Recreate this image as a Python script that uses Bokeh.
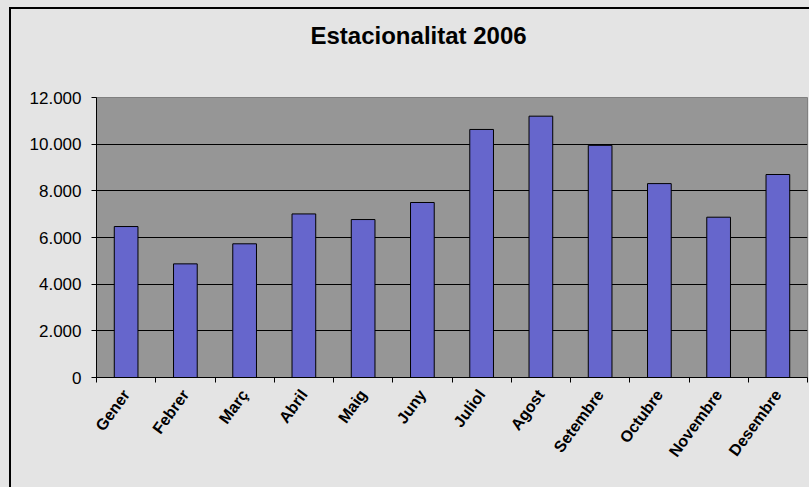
import math
from bokeh.plotting import figure
from bokeh.models import FixedTicker, LinearAxis, Range1d, ColumnDataSource, Title
from bokeh.embed import file_html
from bokeh.resources import INLINE

# ---- data ----
months = ["Gener", "Febrer", "Març", "Abril", "Maig", "Juny", "Juliol",
          "Agost", "Setembre", "Octubre", "Novembre", "Desembre"]
values = [6470, 4870, 5730, 7010, 6770, 7500, 10630, 11200, 9950, 8310, 6870, 8700]
y_ticks = [0, 2000, 4000, 6000, 8000, 10000, 12000]
y_tick_labels = ["0", "2.000", "4.000", "6.000", "8.000", "10.000", "12.000"]
title_text = "Estacionalitat 2006"

centers = [i + 0.5 for i in range(len(months))]
bounds = list(range(len(months) + 1))

src = ColumnDataSource(dict(x=centers, top=values, month=months))

FONT = "Liberation Sans"
BG = "#E4E4E4"

p = figure(width=809, height=487, output_backend="svg", toolbar_location=None,
           x_range=Range1d(0, len(months)), y_range=Range1d(0, 12000),
           x_axis_location=None, y_axis_location=None,
           min_border_left=96, min_border_right=2, min_border_top=97,
           min_border_bottom=110)
p.title_location = None

p.background_fill_color = "#969696"
p.border_fill_color = None
p.outline_line_color = "#808080"
p.outline_line_width = 1
# outer chart-area border (left and top edges only visible in the crop)
p.styles = {"background-color": BG,
            "box-shadow": f"inset 9px 7px 0 0 {BG}, inset 11px 9px 0 0 #000000"}

# spacer between title and plot area, then the title itself (outermost)
p.add_layout(Title(text=" ", text_font_size="10px", standoff=36), "above")
p.add_layout(Title(text=title_text, text_font=FONT, text_font_size="24px",
                   text_font_style="bold", text_color="#000000",
                   align="left", offset=214, standoff=0), "above")

p.vbar(x="x", top="top", bottom=0, width=0.4, source=src,
       fill_color="#6666CC", line_color="#000000", line_width=1)

# y axis
yax = LinearAxis(ticker=FixedTicker(ticks=y_ticks))
yax.major_label_overrides = {t: l for t, l in zip(y_ticks, y_tick_labels)}
yax.major_label_text_font = FONT
yax.major_label_text_font_size = "17px"
yax.major_label_text_color = "#000000"
yax.major_tick_out = 5
yax.major_tick_in = 0
yax.minor_tick_out = 0
yax.minor_tick_in = 0
yax.axis_line_color = "#000000"
yax.major_tick_line_color = "#000000"
yax.major_label_standoff = 10
p.add_layout(yax, "left")

# x axis: labels at centers, ticks between categories (as minor ticks)
xax = LinearAxis(ticker=FixedTicker(ticks=centers, minor_ticks=bounds))
xax.major_label_overrides = {c: m for c, m in zip(centers, months)}
xax.major_label_orientation = math.radians(54)
xax.major_label_text_font = FONT
xax.major_label_text_font_size = "16px"
xax.major_label_text_font_style = "bold"
xax.major_label_text_color = "#000000"
xax.major_tick_out = 0
xax.major_tick_in = 0
xax.minor_tick_out = 5
xax.minor_tick_in = 0
xax.minor_tick_line_color = "#000000"
xax.axis_line_color = "#000000"
xax.major_label_standoff = 9
p.add_layout(xax, "below")

p.xgrid.visible = False
p.ygrid.ticker = FixedTicker(ticks=y_ticks)
p.ygrid.grid_line_color = "#000000"
p.ygrid.grid_line_width = 1

open("out.html", "w").write(file_html(p, INLINE))
